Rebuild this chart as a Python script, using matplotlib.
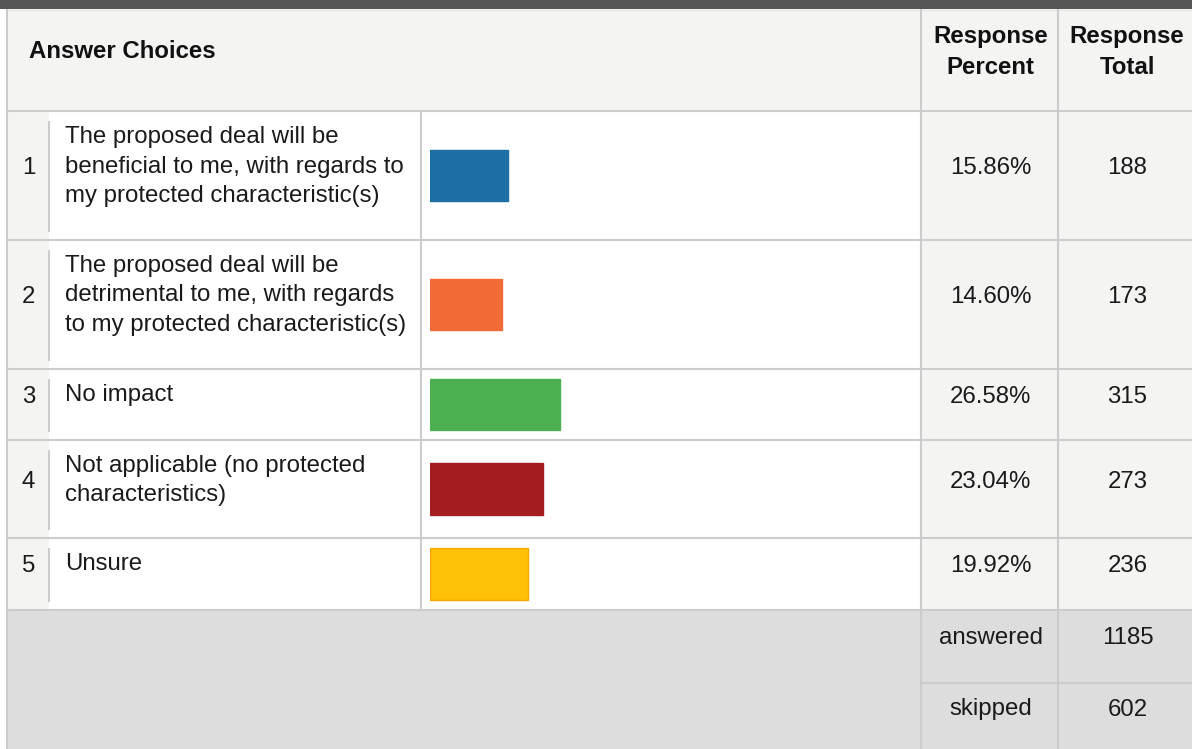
import matplotlib
matplotlib.use("Agg")
import matplotlib.pyplot as plt
from matplotlib.patches import Rectangle

# ---- data ----
numbers = ["1", "2", "3", "4", "5"]
choices = [
    "The proposed deal will be\nbeneficial to me, with regards to\nmy protected characteristic(s)",
    "The proposed deal will be\ndetrimental to me, with regards\nto my protected characteristic(s)",
    "No impact",
    "Not applicable (no protected\ncharacteristics)",
    "Unsure",
]
percents = [15.86, 14.60, 26.58, 23.04, 19.92]
totals = [188, 173, 315, 273, 236]
answered = 1185
skipped = 602
header_choice = "Answer Choices"
header_percent = "Response\nPercent"
header_total = "Response\nTotal"

bar_colors = ["#1c6ea4", "#f26a36", "#4cb050", "#a31c1f", "#fec107"]
bar_edges = ["#1c6ea4", "#f26a36", "#4cb050", "#a31c1f", "#ffa500"]

# ---- layout (pixels) ----
W, H = 1192, 749
row_edges = [111, 240, 369, 440, 538, 610]
col_num = (8, 49)
col_text = (49, 421)
col_bar = (421, 921)
col_pct = (921, 1058)
col_tot = (1058, 1192)
bar_x0, bar_x1 = 430, 920
line_c = "#cccccc"
light = "#f4f4f3"
FS = 17.3
FONT = "Liberation Sans"

fig = plt.figure(figsize=(W / 100, H / 100), dpi=100)
ax = fig.add_axes([0, 0, 1, 1])
ax.set_xlim(0, W)
ax.set_ylim(H, 0)
ax.axis("off")

def rect(x0, y0, x1, y1, color, z=0):
    ax.add_patch(Rectangle((x0, y0), x1 - x0, y1 - y0, facecolor=color,
                           edgecolor="none", zorder=z))

def hline(y, x0, x1, color=line_c, lw=1.5):
    ax.plot([x0, x1], [y, y], color=color, lw=lw, solid_capstyle="butt", zorder=3)

def vline(x, y0, y1, color=line_c, lw=1.5):
    ax.plot([x, x], [y0, y1], color=color, lw=lw, solid_capstyle="butt", zorder=3)

# backgrounds
rect(0, 0, W, H, "white")
rect(0, 0, W, 8.5, "#555555", 2)
rect(8, 9, W, row_edges[0], light)
rect(col_num[0], row_edges[0], col_num[1], row_edges[-1], light)
rect(col_pct[0], row_edges[0], W, row_edges[-1], light)
rect(8, row_edges[-1], W, H, "#dddddd")

# grid lines
vline(7, 9, H)
hline(10, 8, W, color="#e6e6e6", lw=1)
for y in row_edges:
    hline(y, 8, W)
vline(col_pct[0], 9, H)
vline(col_tot[0], 9, H)
for r in range(len(numbers)):
    y0, y1 = row_edges[r], row_edges[r + 1]
    vline(col_num[1], y0 + 10, y1 - 8)
    vline(col_text[1], y0, y1)
hline(683, col_pct[0], W)

# header
ax.text(29, 58.5, header_choice, fontsize=FS, fontweight="bold", family=FONT,
        ha="left", va="baseline", color="#111111")
for hdr, cx in [(header_percent, (col_pct[0] + col_pct[1]) / 2 + 1),
                (header_total, 1127)]:
    for i, line in enumerate(hdr.split("\n")):
        ax.text(cx, 43.5 + 30 * i, line, fontsize=FS, fontweight="bold",
                family=FONT, ha="center", va="baseline", color="#111111")

# rows
row_mids = []
for r in range(len(numbers)):
    y0, y1 = row_edges[r], row_edges[r + 1]
    mid = (y0 + y1) / 2
    row_mids.append(mid)
    base = mid - 1.5
    ax.text(28.5, base, numbers[r], fontsize=FS, family=FONT, ha="center",
            va="baseline", color="#1a1a1a")
    for i, line in enumerate(choices[r].split("\n")):
        ax.text(65, y0 + 32 + 29.5 * i, line, fontsize=FS, family=FONT,
                ha="left", va="baseline", color="#1a1a1a")
    ax.text(990.5, base, f"{percents[r]:.2f}%", fontsize=FS, family=FONT,
            ha="center", va="baseline", color="#1a1a1a")
    ax.text(1127.5, base, str(totals[r]), fontsize=FS, family=FONT,
            ha="center", va="baseline", color="#1a1a1a")

# footer
ax.text(990.5, 644.5, "answered", fontsize=FS, family=FONT, ha="center",
        va="baseline", color="#1a1a1a")
ax.text(1127.5, 644.5, str(answered), fontsize=FS, family=FONT, ha="center",
        va="baseline", color="#1a1a1a")
ax.text(990.5, 715.5, "skipped", fontsize=FS, family=FONT, ha="center",
        va="baseline", color="#1a1a1a")
ax.text(1127.5, 715.5, str(skipped), fontsize=FS, family=FONT, ha="center",
        va="baseline", color="#1a1a1a")

# bars in their own axes: x = percent (0..100), y = pixel rows
bax = fig.add_axes([bar_x0 / W, 1 - row_edges[-1] / H,
                    (bar_x1 - bar_x0) / W, (row_edges[-1] - row_edges[0]) / H])
bax.set_xlim(0, 100)
bax.set_ylim(row_edges[-1], row_edges[0])
bax.axis("off")
bax.patch.set_alpha(0)
bax.barh(row_mids, percents, height=51.5, color=bar_colors, edgecolor=bar_edges,
         linewidth=1.0, align="center")

fig.savefig("out.png", dpi=100)
